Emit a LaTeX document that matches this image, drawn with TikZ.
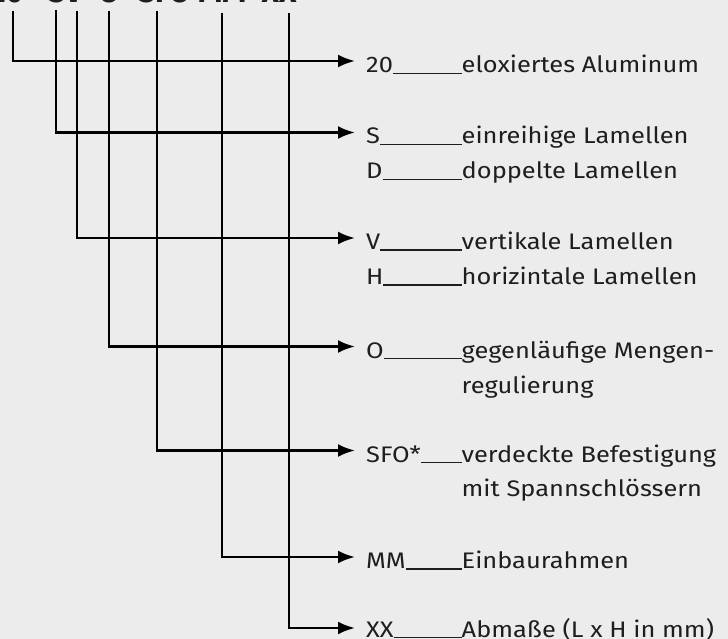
\documentclass[tikz,border=0pt]{standalone}
\usepackage{fontspec}
\setmainfont{Fira Sans}
\newfontfamily\labfont[FakeStretch=1.13]{Fira Sans}
\usetikzlibrary{arrows.meta}
\definecolor{bgcol}{HTML}{ECECEC}
\definecolor{txtcol}{HTML}{1E1E1E}
\newcommand{\codebox}[1]{\makebox[95.5pt][l]{#1\leaders\hrule height 0.2pt depth 1.2pt\hfill}}
\tikzset{
  conn/.style={draw=black, line width=2.6pt, -{Latex[length=17pt,width=13pt]}},
  codelbl/.style={anchor=base west, inner sep=0pt, text=txtcol, font=\labfont\fontsize{22.5}{35}\selectfont},
  desclbl/.style={anchor=base west, inner sep=0pt, text=txtcol, font=\labfont\fontsize{22.5}{35}\selectfont},
  toplbl/.style={anchor=base, inner sep=0pt, text=txtcol, font=\bfseries\fontsize{30}{36}\selectfont},
}
\begin{document}
\begin{tikzpicture}[x=1pt,y=-1pt]
\fill[bgcol] (0,0) rectangle (728,639);
\useasboundingbox (0,0) rectangle (728,639);
% top (cut off) code
\node[toplbl] (h1) at (7,2.2) {20};
\node[toplbl] (h2) at (65,2.2) {SV};
\node[toplbl] (h3) at (109,2.2) {O};
\node[toplbl] (h4) at (164,2.2) {SFO};
\node[toplbl] (h5) at (222,2.2) {MM};
\node[toplbl] (h6) at (279,2.2) {XX};
% line tops
\coordinate (t1) at (13,11);
\coordinate (t2) at (56,10);
\coordinate (t3) at (77,11);
\coordinate (t4) at (109,11);
\coordinate (t5) at (157,11);
\coordinate (t6) at (222,13);
\coordinate (t7) at (289,13);
% arrow ends
\coordinate (e1) at (355,61);
\coordinate (e2) at (355,132.5);
\coordinate (e3) at (355,238);
\coordinate (e4) at (355,346.5);
\coordinate (e5) at (355,450.5);
\coordinate (e6) at (355,557);
\coordinate (e7) at (355,628);
% labels
\node[codelbl] (c1) at (366,73) {\codebox{20}};
\node[desclbl] (d1) at (461.5,73) {eloxiertes Aluminum};
\node[codelbl] (c2) at (366,144) {\codebox{S}};
\node[desclbl] (d2) at (461.5,144) {einreihige Lamellen};
\node[codelbl] (c2b) at (366,179) {\codebox{D}};
\node[desclbl] (d2b) at (461.5,179) {doppelte Lamellen};
\node[codelbl] (c3) at (366,249.5) {\codebox{V}};
\node[desclbl] (d3) at (461.5,249.5) {vertikale Lamellen};
\node[codelbl] (c3b) at (366,284.5) {\codebox{H}};
\node[desclbl] (d3b) at (461.5,284.5) {horizintale Lamellen};
\node[codelbl] (c4) at (366,358) {\codebox{O}};
\node[desclbl] (d4) at (461.5,358) {gegenläufige Mengen-};
\node[desclbl] (d4b) at (461.5,393) {regulierung};
\node[codelbl] (c5) at (366,462) {\codebox{SFO*}};
\node[desclbl] (d5) at (461.5,462) {verdeckte Befestigung};
\node[desclbl] (d5b) at (461.5,496.5) {mit Spannschlössern};
\node[codelbl] (c6) at (366,568.5) {\codebox{MM}};
\node[desclbl] (d6) at (461.5,568.5) {Einbaurahmen};
\node[codelbl] (c7) at (366,637) {\codebox{XX}};
\node[desclbl] (d7) at (461.5,637) {Abmaße (L x H in mm)};
% connectors
\draw[conn] (t1) |- (e1);
\draw[conn] (t2) |- (e2);
\draw[conn] (t3) |- (e3);
\draw[conn] (t4) |- (e4);
\draw[conn] (t5) |- (e5);
\draw[conn] (t6) |- (e6);
\draw[conn] (t7) |- (e7);
\end{tikzpicture}
\end{document}
